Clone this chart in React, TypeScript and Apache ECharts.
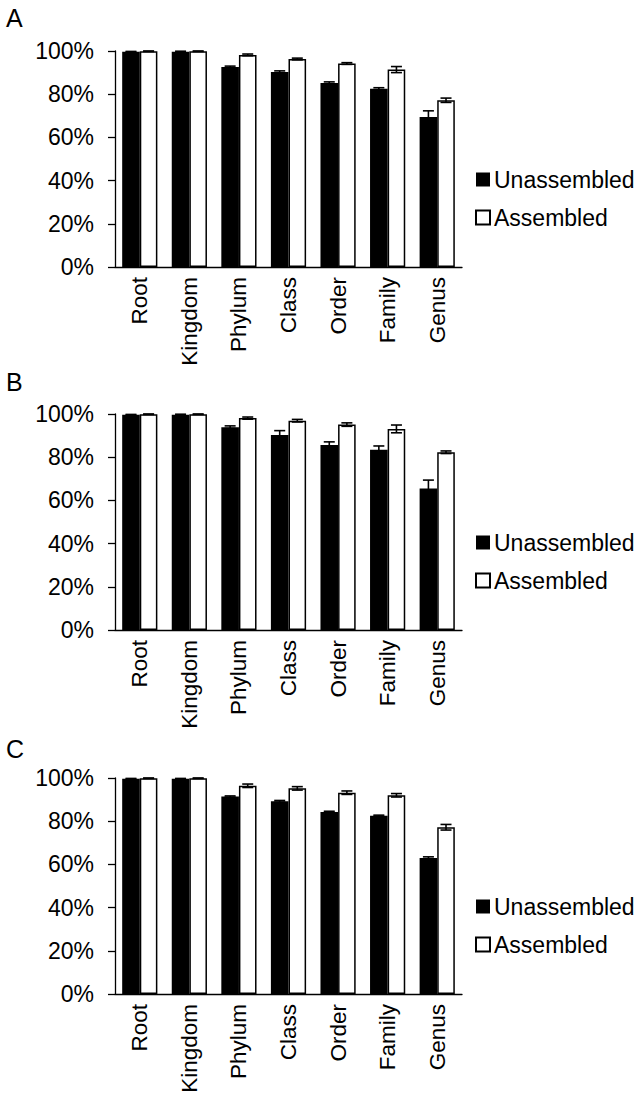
import React, { useEffect, useRef } from "react";
import * as echarts from "echarts";

const categories = ["Root", "Kingdom", "Phylum", "Class", "Order", "Family", "Genus"];
const panelLabels = ["A", "B", "C"];
const seriesNames = ["Unassembled", "Assembled"];
const yTickFormat = "{value}%";

const aUnassembled = [99.6, 99.6, 92.6, 90.3, 85.2, 82.5, 69.5];
const aUnassembledErr = [0.2, 0.3, 0.4, 0.5, 0.5, 0.5, 2.8];
const aAssembled = [99.9, 99.9, 98.2, 96.3, 94.2, 91.4, 77.2];
const aAssembledErr = [0.1, 0.1, 0.4, 0.4, 0.4, 1.4, 1.0];

const bUnassembled = [99.6, 99.6, 93.9, 90.3, 85.6, 83.5, 65.5];
const bUnassembledErr = [0.2, 0.3, 0.6, 2.0, 1.5, 1.7, 3.9];
const bAssembled = [99.9, 99.9, 98.1, 96.9, 95.1, 93.1, 82.3];
const bAssembledErr = [0.1, 0.1, 0.5, 0.6, 0.8, 1.8, 0.6];

const cUnassembled = [99.6, 99.6, 91.4, 89.2, 84.3, 82.5, 63.0];
const cUnassembledErr = [0.2, 0.2, 0.3, 0.4, 0.3, 0.3, 0.5];
const cAssembled = [99.9, 99.9, 96.4, 95.2, 93.2, 92.0, 77.2];
const cAssembledErr = [0.1, 0.1, 0.8, 0.8, 0.8, 0.8, 1.3];

const panels = [
  { u: aUnassembled, ue: aUnassembledErr, s: aAssembled, se: aAssembledErr },
  { u: bUnassembled, ue: bUnassembledErr, s: bAssembled, se: bAssembledErr },
  { u: cUnassembled, ue: cUnassembledErr, s: cAssembled, se: cAssembledErr },
];

const FONT = "'Liberation Sans', Arial, Helvetica, sans-serif";
const GRID_LEFT = 115;
const GRID_WIDTH = 347;
const GRID_TOPS = [51, 414, 778];
const GRID_HEIGHT = 216;
const LEGEND_TOPS = [163, 526, 890];
const LETTER_TOPS = [5, 369, 736];
const BAR_W = 17.6;

export default function App() {
  const ref = useRef<HTMLDivElement>(null);

  useEffect(() => {
    document.body.style.margin = "0";
    if (!ref.current) return;
    const chart = echarts.init(ref.current, undefined, { renderer: "svg" });

    const grid: any[] = [];
    const xAxis: any[] = [];
    const yAxis: any[] = [];
    const series: any[] = [];
    const legend: any[] = [];
    const graphic: any[] = [];

    const errSeries = (idx: number, vals: number[], errs: number[], offset: number) => ({
      type: "custom",
      xAxisIndex: idx,
      yAxisIndex: idx,
      z: 10,
      silent: true,
      data: categories.map((c, i) => [i, vals[i], errs[i]]),
      renderItem: (params: any, api: any) => {
        const x = api.value(0);
        const v = api.value(1);
        const e = api.value(2);
        const top = api.coord([x, v + e]);
        const bot = api.coord([x, v - e]);
        const cx = top[0] + offset;
        const half = 5.5;
        const style = { stroke: "#000", lineWidth: 1.6 };
        return {
          type: "group",
          children: [
            { type: "line", shape: { x1: cx, y1: top[1], x2: cx, y2: bot[1] }, style },
            { type: "line", shape: { x1: cx - half, y1: top[1], x2: cx + half, y2: top[1] }, style },
            { type: "line", shape: { x1: cx - half, y1: bot[1], x2: cx + half, y2: bot[1] }, style },
          ],
        };
      },
    });

    panels.forEach((p, idx) => {
      grid.push({ left: GRID_LEFT, top: GRID_TOPS[idx], width: GRID_WIDTH, height: GRID_HEIGHT });
      xAxis.push({
        type: "category",
        gridIndex: idx,
        data: categories,
        axisLine: { show: true, lineStyle: { color: "#000", width: 1.3 } },
        axisTick: { show: false },
        axisLabel: { rotate: 90, fontSize: 22.5, color: "#000", fontFamily: FONT, margin: 10, interval: 0 },
        splitLine: { show: false },
      });
      yAxis.push({
        type: "value",
        gridIndex: idx,
        min: 0,
        max: 100,
        interval: 20,
        axisLine: { show: true, lineStyle: { color: "#000", width: 1.3 } },
        axisTick: { show: true, length: 7, lineStyle: { color: "#000", width: 1.3 } },
        axisLabel: { formatter: yTickFormat, fontSize: 23, color: "#000", fontFamily: FONT, margin: 21 },
        splitLine: { show: false },
      });
      series.push({
        name: seriesNames[0],
        type: "bar",
        xAxisIndex: idx,
        yAxisIndex: idx,
        data: p.u,
        barWidth: BAR_W,
        barGap: "0%",
        itemStyle: { color: "#000", borderColor: "#000", borderWidth: 0 },
      });
      series.push({
        name: seriesNames[1],
        type: "bar",
        xAxisIndex: idx,
        yAxisIndex: idx,
        data: p.s,
        barWidth: BAR_W,
        barGap: "0%",
        itemStyle: { color: "#fff", borderColor: "#000", borderWidth: 1.5 },
      });
      series.push(errSeries(idx, p.u, p.ue, -BAR_W / 2));
      series.push(errSeries(idx, p.s, p.se, BAR_W / 2));
      legend.push({
        data: seriesNames,
        orient: "vertical",
        left: 470,
        top: LEGEND_TOPS[idx],
        itemGap: 15,
        itemWidth: 14,
        itemHeight: 14,
        icon: "rect",
        selectedMode: false,
        textStyle: { fontSize: 23, color: "#000", fontFamily: FONT, padding: [0, 0, 0, -1] },
      });
      graphic.push({
        type: "text",
        left: 6,
        top: LETTER_TOPS[idx],
        style: { text: panelLabels[idx], fontSize: 25, fill: "#000", fontFamily: FONT },
      });
    });

    chart.setOption({
      animation: false,
      backgroundColor: "#fff",
      grid,
      xAxis,
      yAxis,
      series,
      legend,
      graphic,
    });

    return () => chart.dispose();
  }, []);

  return <div ref={ref} style={{ width: 642, height: 1101 }} />;
}
